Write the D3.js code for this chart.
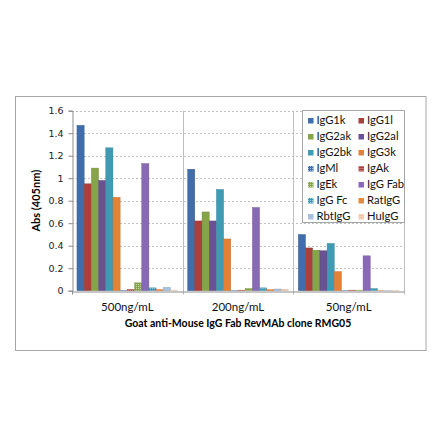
<!DOCTYPE html>
<html>
<head>
<meta charset="utf-8">
<script src="https://cdn.jsdelivr.net/npm/d3@7"></script>
<style>
  body { margin: 0; background: #fff; }
  svg { display: block; }
</style>
</head>
<body>
<svg width="440" height="441"></svg>
<script>
// concentrations on the x axis
const CONCENTRATIONS = ['500ng/mL', '200ng/mL', '50ng/mL'];

// antibody isotypes, in bar order
const ISOTYPES = ['IgG1k', 'IgG1l', 'IgG2ak', 'IgG2al', 'IgG2bk', 'IgG3k', 'IgMl',
  'IgAk', 'IgEk', 'IgG Fab', 'IgG Fc', 'RatIgG', 'RbtIgG', 'HuIgG'];

// absorbance, one array per concentration
const ABS_500 = [1.47, 0.95, 1.09, 0.98, 1.27, 0.83, 0.003, 0.01, 0.07, 1.13, 0.025, 0.01, 0.03, 0.005];
const ABS_200 = [1.08, 0.62, 0.70, 0.62, 0.90, 0.46, 0.002, 0.005, 0.02, 0.74, 0.025, 0.01, 0.015, 0.01];
const ABS_50 = [0.50, 0.38, 0.36, 0.355, 0.42, 0.17, 0.002, 0.005, 0.005, 0.31, 0.02, 0.002, 0.002, 0.002];

const Y_TICKS = [0, 0.2, 0.4, 0.6, 0.8, 1, 1.2, 1.4, 1.6];

const X_TITLE = 'Goat anti-Mouse IgG Fab RevMAb clone RMG05';
const Y_TITLE = 'Abs (405nm)';

// fill colour and whether the swatch is dotted
const COLORS = ['#416dab', '#ab3f3b', '#86a448', '#6a5292', '#3f9bb4', '#e48136', '#416dab',
  '#ab3f3b', '#86a448', '#8869b5', '#3f9bb4', '#e88838', '#a6c0dd', '#f2c4a4'];
const DOTTED = [false, false, false, false, false, false, true, true, true, false, true, false, false, true];

const rows = ISOTYPES.map((name, i) => ({
  name, i, values: [ABS_500[i], ABS_200[i], ABS_50[i]]
}));

const svg = d3.select('svg');
const font = 'Lato, "Open Sans", sans-serif';

// plot box
const plotLeft = 72, plotRight = 404, plotTop = 110.7, plotBottom = 290.7;

const x0 = d3.scaleBand().domain(CONCENTRATIONS).range([plotLeft, plotRight]).padding(0);
const x1 = d3.scaleBand().domain(ISOTYPES).range([0, x0.bandwidth()])
  .paddingInner(0).paddingOuter(0.69);
const y = d3.scaleLinear().domain([0, 1.6]).range([plotBottom, plotTop]);

// dotted fills
const defs = svg.append('defs');
rows.filter(r => DOTTED[r.i]).forEach(r => {
  const p = defs.append('pattern')
    .attr('id', 'pat' + r.i)
    .attr('width', 2).attr('height', 2)
    .attr('patternUnits', 'userSpaceOnUse');
  p.append('rect').attr('width', 2).attr('height', 2).attr('fill', COLORS[r.i]);
  p.append('rect').attr('width', 1).attr('height', 1)
    .attr('fill', '#fff').attr('opacity', 0.55);
});
const fillOf = i => DOTTED[i] ? `url(#pat${i})` : COLORS[i];

// chart border
svg.append('rect')
  .attr('x', 15.5).attr('y', 96.5).attr('width', 410.5).attr('height', 254)
  .attr('fill', 'none').attr('stroke', '#a6a6a6');

// dashed value gridlines
svg.append('g')
  .selectAll('line')
  .data(Y_TICKS.filter(d => d > 0))
  .join('line')
  .attr('x1', plotLeft).attr('x2', plotRight)
  .attr('y1', d => Math.round(y(d)) + 0.5).attr('y2', d => Math.round(y(d)) + 0.5)
  .attr('stroke', '#c0c0c0')
  .attr('stroke-dasharray', '2,2');

// category separators
svg.append('g')
  .selectAll('line')
  .data(CONCENTRATIONS.slice(1).map(c => x0(c)).concat([plotRight]))
  .join('line')
  .attr('x1', d => Math.round(d) + 0.5).attr('x2', d => Math.round(d) + 0.5)
  .attr('y1', plotTop).attr('y2', plotBottom + 4)
  .attr('stroke', '#bfbfbf');

// bars
const groups = svg.append('g')
  .selectAll('g')
  .data(CONCENTRATIONS)
  .join('g')
  .attr('transform', c => `translate(${x0(c)},0)`);

groups.selectAll('rect')
  .data((c, ci) => rows.map(r => ({ r, v: r.values[ci] })))
  .join('rect')
  .attr('x', d => x1(d.r.name))
  .attr('width', x1.bandwidth())
  .attr('y', d => y(d.v))
  .attr('height', d => y(0) - y(d.v))
  .attr('fill', d => fillOf(d.r.i))
  .attr('stroke', d => d3.color(COLORS[d.r.i]).darker(0.5))
  .attr('stroke-width', 0.4);

// y axis
const yAxis = svg.append('g')
  .attr('transform', `translate(${plotLeft + 0.5},0)`)
  .call(d3.axisLeft(y).tickValues(Y_TICKS).tickSize(4).tickPadding(5)
    .tickFormat(d3.format('')));
yAxis.select('.domain').attr('stroke', '#8c8c8c');
yAxis.selectAll('.tick line').attr('stroke', '#8c8c8c');
yAxis.selectAll('text')
  .attr('font-family', '"DejaVu Sans", sans-serif')
  .attr('font-size', 9.5)
  .attr('fill', '#222');

// x axis
const xAxis = svg.append('g')
  .attr('transform', `translate(0,${Math.round(plotBottom) + 0.5})`)
  .call(d3.axisBottom(x0).tickSize(0).tickPadding(11));
xAxis.select('.domain').attr('stroke', '#8c8c8c');
xAxis.selectAll('text')
  .attr('font-family', font)
  .attr('font-size', 11.5)
  .attr('fill', '#111');
svg.append('line')
  .attr('x1', plotLeft + 0.5).attr('x2', plotLeft + 0.5)
  .attr('y1', plotBottom).attr('y2', plotBottom + 4)
  .attr('stroke', '#8c8c8c');

// titles
svg.append('text')
  .attr('x', (plotLeft + plotRight) / 2).attr('y', 327)
  .attr('text-anchor', 'middle')
  .attr('font-family', font).attr('font-size', 10.5).attr('font-weight', 'bold')
  .attr('fill', '#000')
  .text(X_TITLE);

svg.append('text')
  .attr('transform', `translate(40,${(plotTop + plotBottom) / 2}) rotate(-90)`)
  .attr('text-anchor', 'middle')
  .attr('font-family', font).attr('font-size', 11).attr('font-weight', 'bold')
  .attr('fill', '#000')
  .text(Y_TITLE);

// legend
const legend = svg.append('g').attr('transform', 'translate(302,110)');
legend.append('rect')
  .attr('x', 0.5).attr('y', 0.5).attr('width', 102).attr('height', 112)
  .attr('fill', '#fff').attr('stroke', '#a6a6a6');

const items = legend.selectAll('g.item')
  .data(rows)
  .join('g')
  .attr('class', 'item')
  .attr('transform', d => `translate(${6 + (d.i % 2) * 50.5},${8 + Math.floor(d.i / 2) * 16})`);
items.append('rect')
  .attr('width', 5.5).attr('height', 5.5)
  .attr('fill', d => fillOf(d.i));
items.append('text')
  .attr('x', 8.5).attr('y', 6)
  .attr('font-family', font).attr('font-size', 11.2)
  .attr('fill', '#111')
  .text(d => d.name);
</script>
</body>
</html>
